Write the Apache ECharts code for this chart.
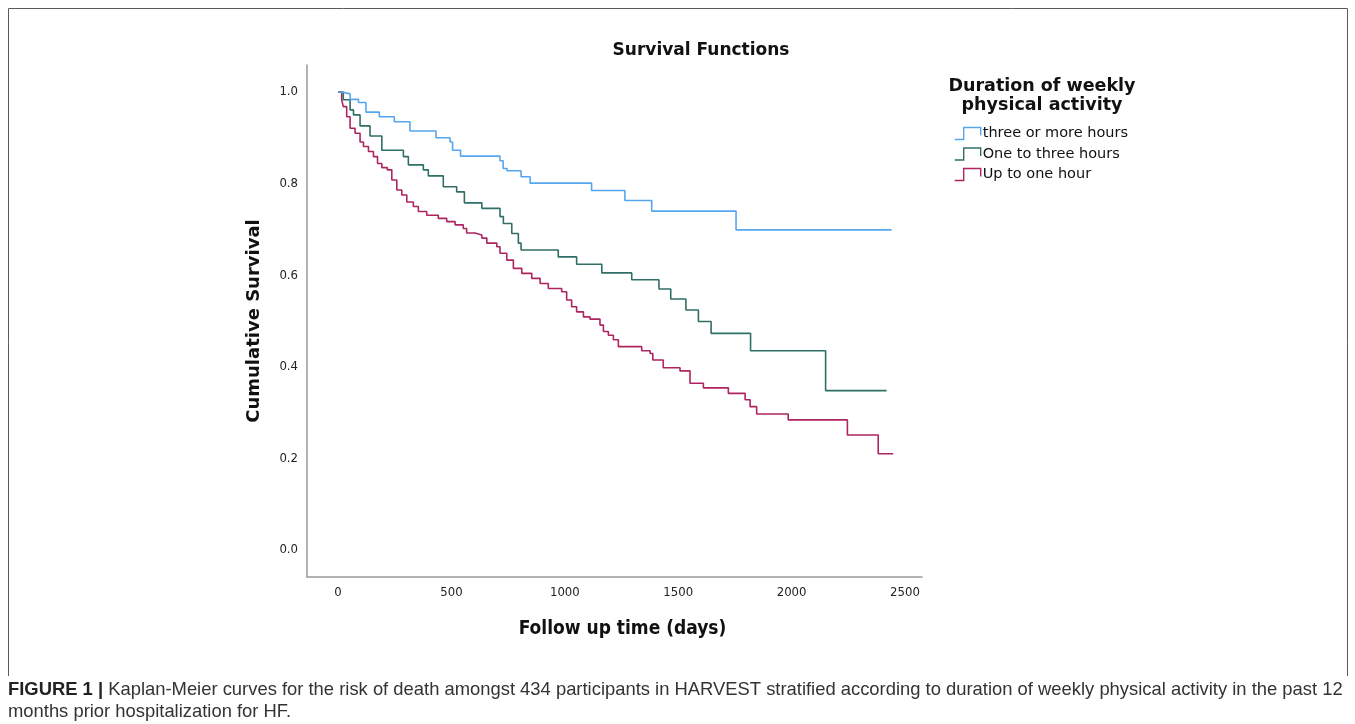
<!DOCTYPE html>
<html>
<head>
<meta charset="utf-8">
<script src="https://cdn.jsdelivr.net/npm/echarts@6/dist/echarts.min.js"></script>
<style>
html,body{margin:0;padding:0;background:#fff;}
#chart{width:1355px;height:724px;}
</style>
</head>
<body>
<div id="chart"></div>
<script>
// ---- Data ----
const seriesNames = ['three or more hours', 'One to three hours', 'Up to one hour'];

// Kaplan-Meier step points [day, cumulative survival] (value after each drop)
const threeOrMore = [
  [0, 1.0], [16, 0.996], [53, 0.984], [90, 0.977], [123, 0.956], [182, 0.946],
  [248, 0.935], [317, 0.915], [432, 0.900], [494, 0.891], [505, 0.873], [540, 0.860],
  [714, 0.850], [728, 0.833], [745, 0.828], [807, 0.815], [847, 0.801],
  [1118, 0.785], [1265, 0.763], [1383, 0.740], [1755, 0.699], [2441, 0.699]
];
const oneToThree = [
  [0, 1.0], [23, 0.983], [53, 0.961], [68, 0.950], [97, 0.926], [141, 0.904],
  [193, 0.873], [288, 0.859], [310, 0.841], [376, 0.830], [398, 0.817],
  [464, 0.793], [523, 0.782], [557, 0.758], [634, 0.746], [714, 0.728],
  [729, 0.713], [766, 0.691], [795, 0.670], [807, 0.655], [971, 0.640],
  [1052, 0.624], [1163, 0.605], [1295, 0.590], [1415, 0.570], [1467, 0.548],
  [1534, 0.524], [1589, 0.499], [1645, 0.473], [1819, 0.435], [2150, 0.348],
  [2419, 0.348]
];
const upToOne = [
  [0, 1.0], [16, 0.983], [23, 0.968], [38, 0.946], [53, 0.921], [75, 0.910],
  [97, 0.891], [112, 0.881], [134, 0.870], [156, 0.859], [174, 0.844],
  [193, 0.835], [217, 0.830], [237, 0.808], [259, 0.786], [281, 0.775],
  [303, 0.760], [332, 0.750], [354, 0.739], [391, 0.731], [442, 0.724],
  [479, 0.717], [516, 0.710], [552, 0.702], [567, 0.692], [604, 0.688],
  [634, 0.681], [656, 0.670], [700, 0.662], [714, 0.648], [744, 0.633],
  [773, 0.615], [810, 0.604], [854, 0.593], [891, 0.582], [927, 0.571],
  [986, 0.564], [1008, 0.546], [1030, 0.531], [1052, 0.520], [1082, 0.509],
  [1111, 0.504], [1155, 0.491], [1170, 0.477], [1192, 0.469], [1214, 0.459],
  [1236, 0.444], [1339, 0.435], [1376, 0.429], [1388, 0.415], [1434, 0.398],
  [1508, 0.391], [1552, 0.364], [1611, 0.354], [1721, 0.342], [1795, 0.328],
  [1817, 0.313], [1846, 0.297], [1985, 0.284], [2246, 0.251], [2382, 0.210],
  [2448, 0.210]
];

const xTicks = [0, 500, 1000, 1500, 2000, 2500];
const yTicks = [0.0, 0.2, 0.4, 0.6, 0.8, 1.0];

const colors = ['#55a6ee', '#2f6f66', '#ad2460'];
const seriesData = [threeOrMore, oneToThree, upToOne];

const chart = echarts.init(document.getElementById('chart'), null, {renderer: 'canvas'});

const iconPath = 'path://M0,14 L9,14 L9,2 L26,2 L26,10';

const option = {
  backgroundColor: '#ffffff',
  animation: false,
  title: [
    {
      text: 'Survival Functions',
      left: 696, top: 37, textAlign: 'center',
      textStyle: {fontFamily: 'DejaVu Sans', fontWeight: 'bold', fontSize: 17, color: '#111'}
    },
    {
      text: 'Duration of weekly\nphysical activity',
      left: 1037, top: 72, textAlign: 'center',
      textStyle: {fontFamily: 'DejaVu Sans', fontWeight: 'bold', fontSize: 17.5, color: '#111', lineHeight: 19}
    }
  ],
  legend: {
    orient: 'vertical',
    left: 949, top: 121,
    itemWidth: 28, itemHeight: 12, itemGap: 5.5,
    data: seriesNames.map((n, i) => ({
      name: n,
      icon: iconPath,
      itemStyle: {color: 'rgba(0,0,0,0)', borderColor: colors[i], borderWidth: 1.4}
    })),
    textStyle: {fontFamily: 'DejaVu Sans', fontSize: 14.5, color: '#111', padding: [0, 0, 0, -4]}
  },
  grid: {left: 307, right: 433, top: 65, bottom: 147, containLabel: false},
  xAxis: {
    type: 'value',
    min: -137, max: 2575,
    name: 'Follow up time (days)',
    nameLocation: 'middle', nameGap: 43,
    nameTextStyle: {fontFamily: 'DejaVu Sans Condensed', fontWeight: 'bold', fontSize: 19, color: '#111', padding: [0, 0, 0, 16]},
    axisLine: {show: true, onZero: false, lineStyle: {color: '#9a9a9a', width: 1.5}},
    axisTick: {show: false},
    splitLine: {show: false},
    axisLabel: {
      customValues: xTicks,
      margin: 9,
      formatter: v => String(Math.round(v)),
      fontFamily: 'DejaVu Sans Condensed', fontSize: 13, color: '#222'
    }
  },
  yAxis: {
    type: 'value',
    min: -0.059, max: 1.059,
    name: 'Cumulative Survival',
    nameLocation: 'middle', nameGap: 44, nameRotate: 90,
    nameTextStyle: {fontFamily: 'DejaVu Sans', fontWeight: 'bold', fontSize: 18, color: '#111'},
    axisLine: {show: true, onZero: false, lineStyle: {color: '#9a9a9a', width: 1.5}},
    axisTick: {show: false},
    splitLine: {show: false},
    axisLabel: {
      customValues: yTicks,
      margin: 9,
      formatter: v => v.toFixed(1),
      fontFamily: 'DejaVu Sans Condensed', fontSize: 13, color: '#222'
    }
  },
  series: seriesNames.map((n, i) => ({
    name: n,
    type: 'line',
    step: 'end',
    data: seriesData[i],
    showSymbol: false,
    symbol: 'none',
    color: colors[i],
    lineStyle: {color: colors[i], width: 1.6},
    z: 3 - i
  })),
  graphic: [
    {
      type: 'polyline',
      shape: {points: [[8.5, 676], [8.5, 8.5], [1347.5, 8.5], [1347.5, 676]]},
      style: {stroke: '#5a5a5a', lineWidth: 1, fill: null},
      silent: true
    },
    {
      type: 'text',
      left: 8, top: 679,
      style: {
        text: '{b|FIGURE 1 |} Kaplan-Meier curves for the risk of death amongst 434 participants in HARVEST stratified according to duration of weekly physical activity in the past 12\nmonths prior hospitalization for HF.',
        fontFamily: 'Liberation Sans', fontSize: 18.4, fill: '#333', lineHeight: 22,
        rich: {
          b: {fontFamily: 'Liberation Sans', fontWeight: 'bold', fontSize: 18.4, fill: '#222'}
        }
      }
    }
  ]
};
chart.setOption(option);
</script>
</body>
</html>
